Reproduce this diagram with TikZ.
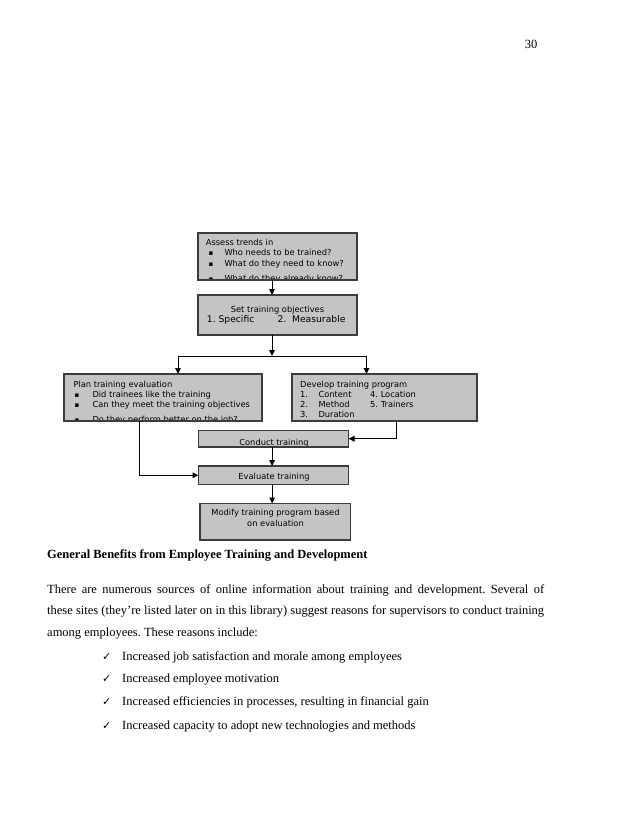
\documentclass[tikz,border=0pt]{standalone}
\usepackage{fontspec}
\setmainfont{Liberation Serif}
\newfontfamily\djv{DejaVu Sans}
\usetikzlibrary{arrows.meta}
\definecolor{boxfill}{RGB}{196,196,196}
\definecolor{boxline}{RGB}{60,60,60}
\tikzset{
  box/.style={fill=boxfill, inner sep=0, outer sep=0, anchor=north west},
  frame/.style={draw=boxline, line width=1.3pt},
  dtxt/.style={font=\djv\fontsize{8.3}{10}\selectfont, inner sep=0, anchor=base west},
  dctr/.style={font=\djv\fontsize{8.3}{10}\selectfont, inner sep=0, anchor=base},
  conn/.style={line width=1pt, -{Triangle[length=6pt,width=5.5pt]}},
  body/.style={font=\fontsize{12.5}{15}\selectfont, inner sep=0, anchor=base west},
}
\newcommand{\bul}{{\fontsize{7}{8}\selectfont ▪}}
\begin{document}
\frenchspacing
\begin{tikzpicture}[x=1pt,y=-1pt]
\useasboundingbox[fill=white] (0,0) rectangle (638,826);
% page number
\node[body, anchor=base] (pn) at (531,49) {30};
% boxes
\node[box, minimum width=159pt, minimum height=47pt] (assess) at (198,233) {};
\node[box, minimum width=159pt, minimum height=40pt] (objectives) at (198,295) {};
\node[box, minimum width=198pt, minimum height=47pt] (plan) at (64,374) {};
\node[box, minimum width=185pt, minimum height=47pt] (develop) at (292,374) {};
\node[box, minimum width=150pt, minimum height=16.5pt] (conduct) at (198.5,430.5) {};
\node[box, minimum width=150pt, minimum height=18.5pt] (evaluate) at (198.5,466) {};
\node[box, minimum width=150.5pt, minimum height=36.5pt] (modify) at (200,503.5) {};
% assess text
\begin{scope}
\clip (assess.south west) rectangle (assess.north east);
\node[dtxt] (a0) at (205.7,245.6) {Assess trends in};
\node[dtxt] (a1b) at (208.5,255.8) {\bul};
\node[dtxt] (a1) at (224.3,255.8) {Who needs to be trained?};
\node[dtxt] (a2b) at (208.5,266) {\bul};
\node[dtxt] (a2) at (224.3,266) {What do they need to know?};
\node[dtxt] (a3b) at (208.5,281.8) {\bul};
\node[dtxt] (a3) at (224.3,281.8) {What do they already know?};
\end{scope}
% objectives text
\node[dctr] (o0) at (277.5,312) {Set training objectives};
\node[dtxt, font=\djv\fontsize{9.2}{10}\selectfont] (o1) at (206.7,322.8) {1. Specific};
\node[dtxt, font=\djv\fontsize{9.2}{10}\selectfont] (o2) at (277.3,322.8) {2.\ \ Measurable};
% plan text
\begin{scope}
\clip (plan.south west) rectangle (plan.north east);
\node[dtxt] (p0) at (73.3,387) {Plan training evaluation};
\node[dtxt] (p1b) at (74.3,397.3) {\bul};
\node[dtxt] (p1) at (92.3,397.3) {Did trainees like the training};
\node[dtxt] (p2b) at (74.3,407.6) {\bul};
\node[dtxt] (p2) at (92.3,407.6) {Can they meet the training objectives};
\node[dtxt] (p3b) at (74.3,422.8) {\bul};
\node[dtxt] (p3) at (92.3,422.8) {Do they perform better on the job?};
\end{scope}
% develop text
\begin{scope}
\clip (develop.south west) rectangle (develop.north east);
\node[dtxt] (d0) at (300,387) {Develop training program};
\node[dtxt] (d1n) at (300,397) {1.};
\node[dtxt] (d1) at (318.3,397) {Content};
\node[dtxt] (d4) at (370,397) {4. Location};
\node[dtxt] (d2n) at (300,407) {2.};
\node[dtxt] (d2) at (318.3,407) {Method};
\node[dtxt] (d5) at (370,407) {5. Trainers};
\node[dtxt] (d3n) at (300,417.8) {3.};
\node[dtxt] (d3) at (318.3,417.8) {Duration};
\end{scope}
% conduct
\begin{scope}
\clip (conduct.south west) rectangle (conduct.north east);
\node[dctr] (c0) at (274,445.3) {Conduct training};
\end{scope}
\node[dctr] (e0) at (274,479) {Evaluate training};
\node[dctr] (m0) at (275.5,515.5) {Modify training program based};
\node[dctr] (m1) at (275.5,526.3) {on evaluation};
% frames
\foreach \b in {assess,objectives,plan,develop,conduct,evaluate,modify}
  \draw[frame] (\b.south west) rectangle (\b.north east);
% connectors
\coordinate (spl) at (272,356);
\draw[conn] ([xshift=-5.5pt]assess.south) -- ([xshift=-5.5pt]objectives.north);
\draw[conn] ([xshift=-5.5pt]objectives.south) -- (spl);
\draw[conn] (spl) -| ([xshift=15pt]plan.north);
\draw[conn] (spl) -| ([xshift=-18pt]develop.north);
\draw[conn] ([xshift=11.5pt]develop.south) |- (conduct.east);
\draw[conn] ([xshift=-23.7pt]plan.south) |- (evaluate.west);
\draw[conn] ([xshift=-1.4pt]conduct.south) -- ([xshift=-1.4pt]evaluate.north);
\draw[conn] ([xshift=-1.4pt]evaluate.south) -- ([xshift=-1.4pt]evaluate.south |- modify.north);
% text below
\node[body, font=\fontsize{12.5}{15}\selectfont\bfseries] (head) at (47,558) {General Benefits from Employee Training and Development};
\node[body] (l1) at (47,593.5) {\makebox[497pt][s]{There are numerous sources of online information about training and development. Several of}};
\node[body] (l2) at (47,614.5) {\makebox[497pt][s]{these sites (they're listed later on in this library) suggest reasons for supervisors to conduct training}};
\node[body] (l3) at (47,636) {among employees. These reasons include:};
\foreach \n/\y/\t in {1/660.5/{Increased job satisfaction and morale among employees},
                      2/682.5/{Increased employee motivation},
                      3/705.5/{Increased efficiencies in processes, resulting in financial gain},
                      4/729/{Increased capacity to adopt new technologies and methods}} {
  \node[body, font=\djv\fontsize{11}{12}\selectfont] (ck\n) at (102,\y) {✓};
  \node[body] (bl\n) at (122,\y) {\t};
}
\end{tikzpicture}
\end{document}
